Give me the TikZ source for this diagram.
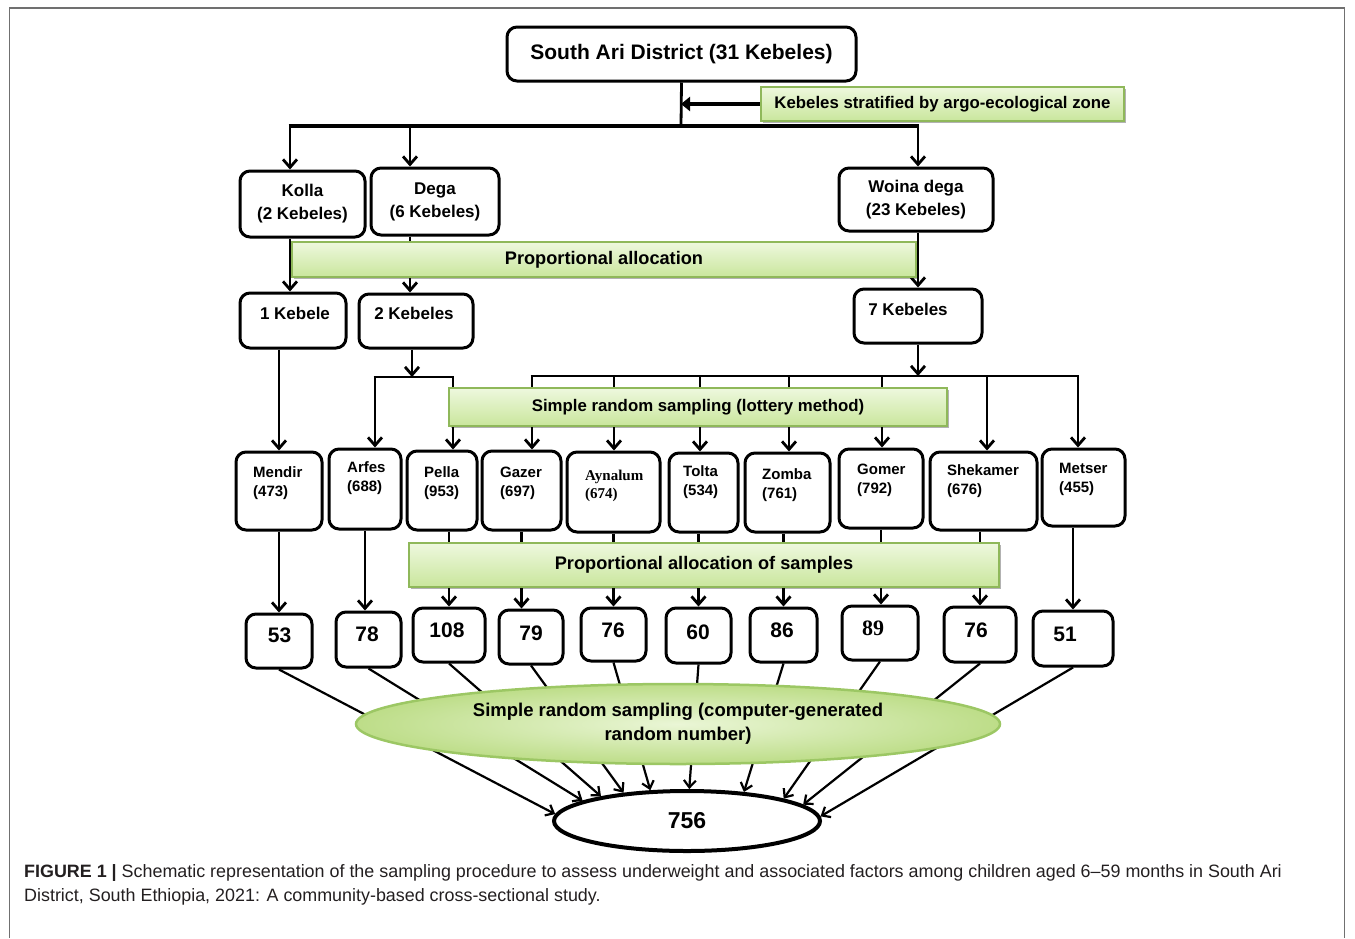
\documentclass[tikz,border=0pt]{standalone}
\usepackage{fontspec}
\setmainfont{Liberation Sans}
\newfontfamily\serifbold{Liberation Serif}
\usetikzlibrary{arrows.meta,shapes.geometric,shadows,backgrounds}
\definecolor{gtop}{HTML}{EEF8DE}
\definecolor{gbot}{HTML}{C9E69C}
\definecolor{gline}{HTML}{8FB85A}
\definecolor{ginner}{HTML}{EAF6D6}
\definecolor{gouter}{HTML}{BDDD88}
\definecolor{gellline}{HTML}{9CC764}
\definecolor{framegray}{HTML}{707070}
\definecolor{captxt}{HTML}{231F20}
\tikzset{
  rbox/.style={draw=black, line width=3pt, rounded corners=10pt, fill=white, inner sep=0pt},
  gbox/.style={draw=gline, line width=2pt, top color=gtop, bottom color=gbot, inner sep=0pt,
    drop shadow={shadow xshift=2pt, shadow yshift=-2pt, opacity=0.3, fill=black}},
  conn/.style={line width=2.8pt, black},
  arr/.style={conn, -{Straight Barb[length=8pt,width=14pt]}},
  bigarr/.style={line width=4pt, black, -{Triangle[length=9pt,width=14pt]}},
  lbl/.style={inner sep=0pt, font=\bfseries\fontsize{17}{23}\selectfont},
  slbl/.style={inner sep=0pt, anchor=west, align=left, font=\bfseries\fontsize{15}{19}\selectfont},
  nlbl/.style={inner sep=0pt, font=\bfseries\fontsize{21}{24}\selectfont},
}
\begin{document}
\begin{tikzpicture}[x=1pt,y=-1pt]
\path[use as bounding box] (0,0) rectangle (1355,938);
\draw[framegray, line width=1.5pt] (9.5,938) -- (9.5,8) -- (1344.5,8) -- (1344.5,938);

% top level
\node[rbox, minimum width=349pt, minimum height=54pt, font=\bfseries\fontsize{21}{25}\selectfont] (top) at (681.5,54) {South Ari District (31 Kebeles)};
\node[gbox, minimum width=363pt, minimum height=34pt, font=\bfseries\fontsize{16.8}{20}\selectfont] (strat) at (942.5,104) {Kebeles stratified by argo-ecological zone};

% zones
\node[rbox, minimum width=125pt, minimum height=66pt, align=center, font=\bfseries\fontsize{17}{23}\selectfont] (kolla) at (302.5,204) {Kolla\\(2 Kebeles)};
\node[rbox, minimum width=128pt, minimum height=67pt, align=center, font=\bfseries\fontsize{17}{23}\selectfont] (dega) at (435,201.5) {Dega\\(6 Kebeles)};
\node[rbox, minimum width=154pt, minimum height=63pt, align=center, font=\bfseries\fontsize{17}{23}\selectfont] (woina) at (916,199.5) {Woina dega\\(23 Kebeles)};

\node[gbox, minimum width=624pt, minimum height=35pt, font=\bfseries\fontsize{18.2}{22}\selectfont] (prop) at (604,259.5) {\raisebox{-2pt}{Proportional allocation}};

% selected kebeles
\node[rbox, minimum width=106pt, minimum height=55pt] (k1) at (293,320.5) {};
\node[lbl] (k1t) at (295,313) {1 Kebele};
\node[rbox, minimum width=114pt, minimum height=54pt] (k2) at (416,321) {};
\node[lbl] (k2t) at (414,313) {2 Kebeles};
\node[rbox, minimum width=128pt, minimum height=54pt] (k7) at (918,316) {};
\node[lbl] (k7t) at (908,309) {7 Kebeles};

\node[gbox, minimum width=498pt, minimum height=38pt, font=\bfseries\fontsize{16.8}{20}\selectfont] (srs) at (698,407) {Simple random sampling (lottery method)};

% kebele boxes
\node[rbox, minimum width=86pt, minimum height=78pt] (mendir) at (279,491) {};
\node[slbl] (mendirt) at (253,483.5) {Mendir\\(473)};
\node[rbox, minimum width=72pt, minimum height=80pt] (arfes) at (365,489) {};
\node[slbl] (arfest) at (347,478) {Arfes\\(688)};
\node[rbox, minimum width=70pt, minimum height=79pt] (pella) at (442,490.5) {};
\node[slbl] (pellat) at (424,483) {Pella\\(953)};
\node[rbox, minimum width=79pt, minimum height=79pt] (gazer) at (521.5,490.5) {};
\node[slbl] (gazert) at (500,483) {Gazer\\(697)};
\node[rbox, minimum width=93pt, minimum height=80pt] (aynalum) at (613.5,492) {};
\node[slbl, font=\serifbold\bfseries\fontsize{15}{18}\selectfont] (aynalumt) at (585,486) {Aynalum\\(674)};
\node[rbox, minimum width=69pt, minimum height=79pt] (tolta) at (703.5,492.5) {};
\node[slbl] (toltat) at (683,482) {Tolta\\(534)};
\node[rbox, minimum width=85pt, minimum height=79pt] (zomba) at (787.5,492.5) {};
\node[slbl] (zombat) at (762,485.5) {Zomba\\(761)};
\node[rbox, minimum width=84pt, minimum height=79pt] (gomer) at (881,488.5) {};
\node[slbl] (gomert) at (857,480) {Gomer\\(792)};
\node[rbox, minimum width=107pt, minimum height=78pt] (shekamer) at (983.5,491) {};
\node[slbl] (shekamert) at (947,481.5) {Shekamer\\(676)};
\node[rbox, minimum width=83pt, minimum height=77pt] (metser) at (1083.5,487.5) {};
\node[slbl] (metsert) at (1059,479.5) {Metser\\(455)};

\node[gbox, minimum width=590pt, minimum height=44pt, font=\bfseries\fontsize{18.2}{22}\selectfont] (pas) at (704,565) {Proportional allocation of samples};

% sample boxes
\node[rbox, minimum width=66pt, minimum height=54pt] (n1) at (279,641) {};
\node[nlbl] (n1t) at (279.5,635) {53};
\node[rbox, minimum width=65pt, minimum height=55pt] (n2) at (368.5,639.5) {};
\node[nlbl] (n2t) at (367,634) {78};
\node[rbox, minimum width=72pt, minimum height=54pt] (n3) at (449,635) {};
\node[nlbl] (n3t) at (447,630) {108};
\node[rbox, minimum width=64pt, minimum height=54pt] (n4) at (531,637) {};
\node[nlbl] (n4t) at (531,633) {79};
\node[rbox, minimum width=65pt, minimum height=53pt] (n5) at (613.5,634.5) {};
\node[nlbl] (n5t) at (613,630) {76};
\node[rbox, minimum width=65pt, minimum height=55pt] (n6) at (698.5,635.5) {};
\node[nlbl] (n6t) at (698,632) {60};
\node[rbox, minimum width=67pt, minimum height=54pt] (n7) at (783.5,635) {};
\node[nlbl] (n7t) at (782,630) {86};
\node[rbox, minimum width=76pt, minimum height=54pt] (n8) at (880,633) {};
\node[nlbl, font=\serifbold\bfseries\fontsize{22}{24}\selectfont] (n8t) at (873,628) {89};
\node[rbox, minimum width=72pt, minimum height=55pt] (n9) at (980,634.5) {};
\node[nlbl] (n9t) at (976,630) {76};
\node[rbox, minimum width=80pt, minimum height=55pt] (n10) at (1073,638.5) {};
\node[nlbl] (n10t) at (1065,634) {51};

% ellipses
\node[ellipse, draw=gellline, line width=2.5pt, inner color=ginner, outer color=gouter, minimum width=644pt, minimum height=80pt, align=center, inner sep=0pt, font=\bfseries\fontsize{18.5}{24}\selectfont] (ell1) at (678,724) {Simple random sampling (computer-generated\\random number)};
\node[ellipse, draw=black, line width=4pt, fill=white, minimum width=266pt, minimum height=60pt, inner sep=0pt, font=\bfseries\fontsize{23}{26}\selectfont] (ell2) at (687,821) {756};

% caption
\node[anchor=base west, inner sep=0pt, text=captxt, font=\fontsize{17.9}{20}\selectfont] (cap1) at (24,877) {\textbf{FIGURE 1 |} Schematic representation of the sampling procedure to assess underweight and associated factors among children aged 6--59 months in South Ari};
\node[anchor=base west, inner sep=0pt, text=captxt, font=\fontsize{17.9}{20}\selectfont] (cap2) at (24,901) {District, South Ethiopia, 2021: A community-based cross-sectional study.};

% connectors
\begin{pgfonlayer}{background}
\coordinate (bar) at (681,126);
\coordinate (bL) at (290,126);
\coordinate (bD) at (410,126);
\coordinate (bR) at (918,126);
\draw[conn] (top.south) -- (bar);
\draw[line width=4pt] ([xshift=-1.4pt]bL) -- ([xshift=1.4pt]bR);
\draw[bigarr] (strat.west) -- (strat.west -| bar);
\draw[arr] (bL) -- (bL |- kolla.north);
\draw[arr] (bD) -- (bD |- dega.north);
\draw[arr] (bR) -- (bR |- woina.north);
\draw[arr] (bL |- kolla.south) -- (bL |- k1.north);
\draw[arr] (bD |- dega.south) -- (bD |- k2.north);
\draw[arr] (bR |- woina.south) -- (bR |- k7.north);
\draw[arr] (mendir.north |- k1.south) -- (mendir.north);
% Dega branch
\coordinate (j2) at (412,377);
\coordinate (jA) at (375,377);
\coordinate (jP) at (453,377);
\draw[arr] (j2 |- k2.south) -- (j2);
\draw[conn] ([xshift=-1.4pt]jA) -- ([xshift=1.4pt]jP);
\draw[arr] (jA) -- (jA |- arfes.north);
\draw[arr] (jP) -- (jP |- pella.north);
% Woina dega branch
\coordinate (j7) at (918,376);
\coordinate (d1) at (532,376);
\coordinate (d2) at (614,376);
\coordinate (d3) at (700,376);
\coordinate (d4) at (789,376);
\coordinate (d5) at (882,376);
\coordinate (d6) at (987,376);
\coordinate (d7) at (1078,376);
\draw[arr] (j7 |- k7.south) -- (j7);
\draw[conn] ([xshift=-1.4pt]d1) -- ([xshift=1.4pt]d7);
\draw[arr] (d1) -- (d1 |- gazer.north);
\draw[arr] (d2) -- (d2 |- aynalum.north);
\draw[arr] (d3) -- (d3 |- tolta.north);
\draw[arr] (d4) -- (d4 |- zomba.north);
\draw[arr] (d5) -- (d5 |- gomer.north);
\draw[arr] (d6) -- (d6 |- shekamer.north);
\draw[arr] (d7) -- (d7 |- metser.north);
% kebeles to samples
\draw[arr] (mendir.south) -- (n1.north);
\draw[arr] (arfes.south) -- (arfes.south |- n2.north);
\draw[arr] (n3.north |- pella.south) -- (n3.north);
\draw[arr] (gazer.south) -- (gazer.south |- n4.north);
\draw[arr] (aynalum.south) -- (n5.north);
\draw[arr] (n6.north |- tolta.south) -- (n6.north);
\draw[arr] (n7.north |- zomba.south) -- (n7.north);
\draw[arr] (gomer.south) -- (gomer.south |- n8.north);
\draw[arr] (n9.north |- shekamer.south) -- (n9.north);
\draw[arr] (n10.north |- metser.south) -- (n10.north);
% samples to total
\tikzset{farr/.style={line width=2.2pt, -{Straight Barb[length=7pt,width=12pt]}}}
\draw[farr] (n1.south) -- (ell2.177.7);
\draw[farr] (n2.south) -- (ell2.169.5);
\draw[farr] (n3.south) -- (ell2.164.3);
\draw[farr] (n4.south) -- (ell2.156.4);
\draw[farr] (n5.south) -- (ell2.140.4);
\draw[farr] (n6.south) -- (ell2.86);
\draw[farr] (n7.south) -- (ell2.27.4);
\draw[farr] (n8.south) -- (ell2.13.5);
\draw[farr] (n9.south) -- (ell2.8);
\draw[farr] (n10.south) -- (ell2.2.8);
\end{pgfonlayer}
\end{tikzpicture}
\end{document}
